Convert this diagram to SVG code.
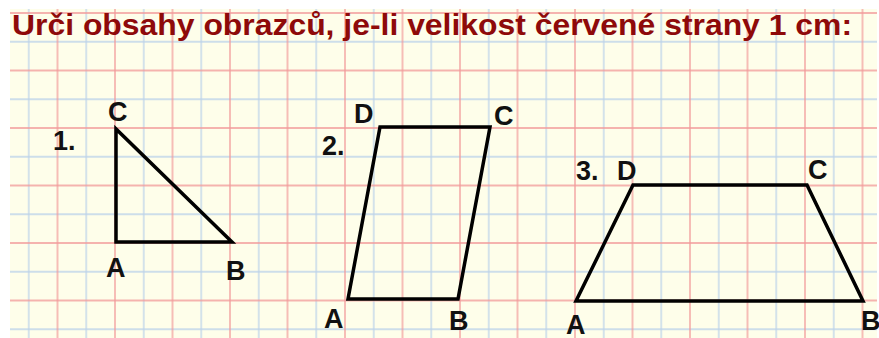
<svg xmlns="http://www.w3.org/2000/svg" width="879" height="338" viewBox="0 0 879 338">
<style>
.red{stroke:#F29A9A;stroke-width:1.3}
.blue{stroke:#BCD3EA;stroke-width:1.3}
.shape{fill:none;stroke:#000;stroke-width:3.5;stroke-linejoin:miter}
.lbl{font-family:"Liberation Sans",Arial,sans-serif;font-weight:bold;font-size:27px;fill:#111}
.title{font-family:"Liberation Sans",Arial,sans-serif;font-weight:bold;font-size:29px;fill:#8E0A0A}
</style>
<defs>
<pattern id="grid" x="0" y="13" width="57.5" height="57.5" patternUnits="userSpaceOnUse">
<line class="blue" x1="28.75" y1="0" x2="28.75" y2="57.5"/>
<line class="blue" x1="0" y1="28.75" x2="57.5" y2="28.75"/>
<line class="red" x1="0" y1="0" x2="57.5" y2="0"/>
<line class="red" x1="0" y1="57.5" x2="57.5" y2="57.5"/>
<line class="red" x1="0" y1="0" x2="0" y2="57.5"/>
<line class="red" x1="57.5" y1="0" x2="57.5" y2="57.5"/>
</pattern>
</defs>
<rect width="879" height="338" fill="#fff"/>
<rect x="10" y="9" width="867" height="329" fill="#FEFEEA"/>
<rect x="10" y="9" width="867" height="329" fill="url(#grid)"/>
<text class="title" x="12" y="35" textLength="840" lengthAdjust="spacingAndGlyphs">Urči obsahy obrazců, je-li velikost červené strany 1 cm:</text>
<g id="triangle">
<polygon class="shape" points="116,242 232,242 116,129"/>
<text class="lbl" x="53" y="150">1.</text>
<text class="lbl" x="108" y="121">C</text>
<text class="lbl" x="106" y="277">A</text>
<text class="lbl" x="226" y="280">B</text>
</g>
<g id="parallelogram">
<polygon class="shape" points="348,299 458,299 490,127 380,127"/>
<text class="lbl" x="322" y="155">2.</text>
<text class="lbl" x="354" y="123">D</text>
<text class="lbl" x="494" y="125">C</text>
<text class="lbl" x="324" y="328">A</text>
<text class="lbl" x="449" y="330">B</text>
</g>
<g id="trapezoid">
<polygon class="shape" points="576,301 863,301 807,185 633,185"/>
<text class="lbl" x="576" y="180">3.</text>
<text class="lbl" x="617" y="180">D</text>
<text class="lbl" x="808" y="179">C</text>
<text class="lbl" x="566" y="334">A</text>
<text class="lbl" x="861" y="330">B</text>
</g>
</svg>
